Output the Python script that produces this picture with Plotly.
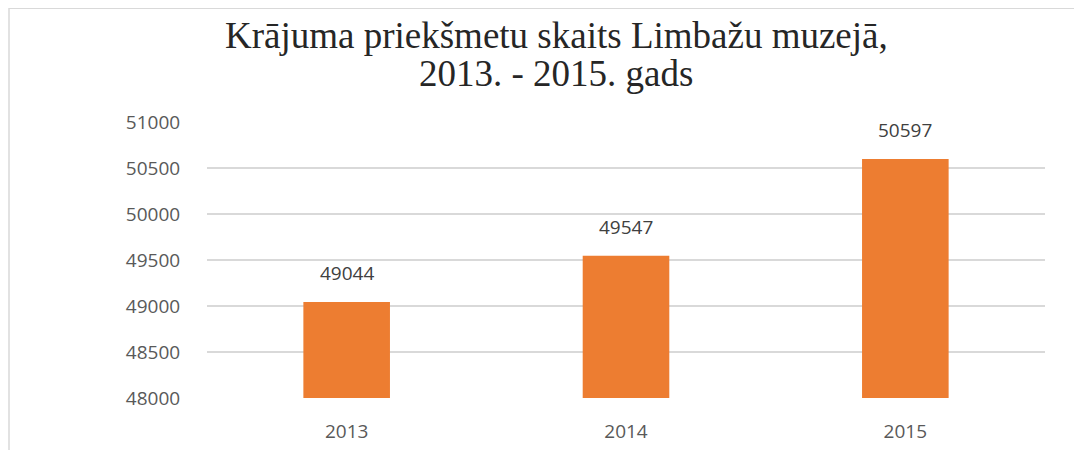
import plotly.graph_objects as go

years = ["2013", "2014", "2015"]
values = [49044, 49547, 50597]
y_ticks = [48000, 48500, 49000, 49500, 50000, 50500, 51000]
title_lines = ["Krājuma priekšmetu skaits Limbažu muzejā,", "2013. - 2015. gads"]

# the page body has an 8px margin; figure coords = screenshot coords - 8
W, H = 1082, 450
L, R, T, B = 199, 45, 114, 60
pw, ph = W - L - R, H - T - B

label_font = dict(family="Open Sans", size=19, color="#404040")

fig = go.Figure(go.Bar(
    x=years, y=values,
    marker=dict(color="#ED7D31", line=dict(width=0)),
    width=0.31,
    hoverinfo="x+y",
))

# data labels: category index i on the category axis
annotations = [
    dict(x=i, y=v, xref="x", yref="y", text=str(v), showarrow=False,
         yanchor="bottom", yshift=14, font=label_font)
    for i, v in enumerate(values)
]
title_y_px = [28, 65]
for line, ypx in zip(title_lines, title_y_px):
    annotations.append(dict(
        x=(548 - L) / pw, xref="paper", xanchor="center",
        y=(H - B - ypx) / ph, yref="paper", yanchor="middle",
        text=line, showarrow=False,
        font=dict(family="Liberation Serif", size=37, color="#262626"),
    ))

fig.update_layout(
    width=W, height=H,
    margin=dict(l=L, r=R, t=T, b=B, autoexpand=False),
    paper_bgcolor="white", plot_bgcolor="white",
    showlegend=False,
    annotations=annotations,
    xaxis=dict(
        type="category", automargin=False,
        range=[-0.5, len(years) - 0.5],
        showgrid=False, showline=False, zeroline=False,
        tickfont=dict(family="Open Sans", size=19, color="#595959"),
        ticks="outside", ticklen=16, tickcolor="rgba(0,0,0,0)",
    ),
    yaxis=dict(
        automargin=False,
        range=[48000, 51000], tickvals=y_ticks, ticktext=[str(t) for t in y_ticks],
        showgrid=True, gridcolor="#D9D9D9", gridwidth=1.5,
        zeroline=False, showline=False,
        tickfont=dict(family="Open Sans", size=19, color="#595959"),
        ticks="outside", ticklen=22, tickcolor="rgba(0,0,0,0)",
    ),
    shapes=[
        dict(type="line", xref="paper", yref="paper",
             x0=(1 - L) / pw, x1=(W + 5 - L) / pw,
             y0=(H - B) / ph - 0.001, y1=(H - B) / ph - 0.001,
             line=dict(color="#D9D9D9", width=1.5)),
        dict(type="line", xref="paper", yref="paper",
             x0=(1 - L) / pw, x1=(1 - L) / pw,
             y0=(H - B) / ph, y1=-(B + 5) / ph,
             line=dict(color="#D9D9D9", width=1.5)),
    ],
)

fig.write_html("out.html")
